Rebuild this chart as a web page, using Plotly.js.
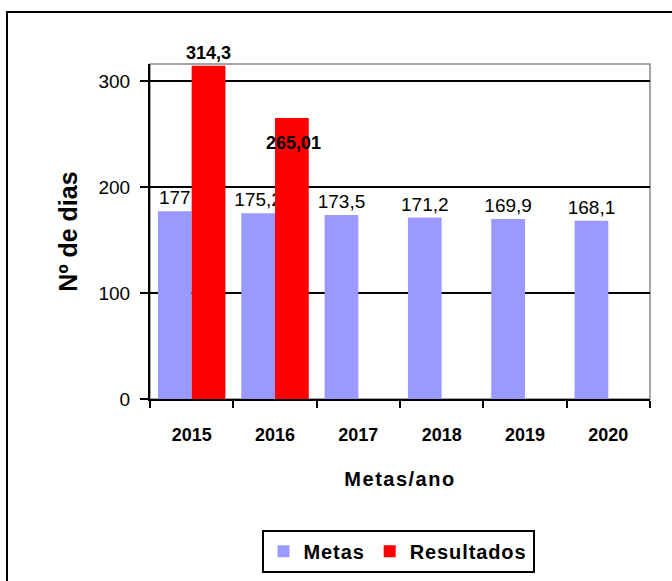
<!DOCTYPE html>
<html>
<head>
<meta charset="utf-8">
<script src="https://cdn.plot.ly/plotly-3.0.1.min.js"></script>
<style>
  html, body { margin: 0; padding: 0; background: #fff; }
  #wrap { position: relative; width: 672px; height: 581px; overflow: hidden; }
  #chart { position: absolute; left: 0; top: 0; width: 672px; height: 581px; }
  #frame { position: absolute; left: 6px; top: 11px; width: 700px; height: 620px; border: 2px solid #000; pointer-events: none; }
  .legendtext { letter-spacing: 0.9px; }
  .xtitle { letter-spacing: 1.5px; }
</style>
</head>
<body>
<div id="wrap">
  <div id="chart"></div>
  <div id="frame"></div>
</div>
<script>
const categories = ['2015', '2016', '2017', '2018', '2019', '2020'];
const metas = [177, 175.2, 173.5, 171.2, 169.9, 168.1];
const resultados = [314.3, 265.01, null, null, null, null];
const yTicks = [0, 100, 200, 300];

const FONT = "'Liberation Sans', Arial, sans-serif";
const fmt = v => (v === null ? '' : String(v).replace('.', ','));

const traceMetas = {
  type: 'bar', name: 'Metas', x: categories, y: metas,
  marker: { color: '#9999FF' },
  text: metas.map(fmt), textposition: 'outside', textangle: 0, constraintext: 'none',
  outsidetextfont: { family: FONT, size: 19, color: '#000' },
  cliponaxis: false, hoverinfo: 'none'
};
// first result labelled above its bar; the second one is labelled by an annotation inside the bar
const IN_LABEL = 1;
const traceRes = {
  type: 'bar', name: 'Resultados', x: categories, y: resultados,
  marker: { color: '#FF0000' },
  text: resultados.map((v, i) => i === IN_LABEL ? '' : fmt(v)),
  textposition: 'outside', textangle: 0, constraintext: 'none',
  outsidetextfont: { family: FONT, size: 18, color: '#000', weight: 'bold' },
  cliponaxis: false, hoverinfo: 'none'
};

const layout = {
  width: 672, height: 581,
  margin: { l: 150, r: 22, t: 64, b: 182, pad: 0 },
  paper_bgcolor: 'rgba(0,0,0,0)', plot_bgcolor: '#fff',
  barmode: 'group', bargap: 0.19, bargroupgap: 0,
  font: { family: FONT, color: '#000' },
  showlegend: true,
  legend: {
    orientation: 'h', x: 0.496, xanchor: 'center', yref: 'container', y: 0.088, yanchor: 'top',
    bordercolor: '#000', borderwidth: 2, bgcolor: '#fff',
    font: { family: FONT, size: 20, weight: 'bold', color: '#000' },
    itemclick: false, itemdoubleclick: false
  },
  xaxis: {
    type: 'category', tickson: 'boundaries', ticks: 'outside', ticklen: 7, tickwidth: 2, tickcolor: '#000',
    showline: true, linecolor: '#000', linewidth: 2, showgrid: false, zeroline: false,
    tickfont: { family: FONT, size: 18, weight: 'bold' }, ticklabelstandoff: 18, tickangle: 0,
    title: { text: 'Metas/ano', font: { family: FONT, size: 20, weight: 'bold' }, standoff: 28 }
  },
  yaxis: {
    range: [0, 316], tickvals: yTicks, ticks: 'outside', ticklen: 8, tickwidth: 2, tickcolor: '#000',
    showline: true, linecolor: '#000', linewidth: 2, showgrid: true, gridcolor: '#000', gridwidth: 1.6,
    zeroline: false, tickfont: { family: FONT, size: 19 }, ticklabelstandoff: 6,
    title: { text: 'Nº de dias', font: { family: FONT, size: 25, weight: 'bold' }, standoff: 14 }
  },
  annotations: [{
    xref: 'x', yref: 'y', x: IN_LABEL, y: resultados[IN_LABEL], text: fmt(resultados[IN_LABEL]),
    showarrow: false, xanchor: 'center', yanchor: 'top', xshift: 18, yshift: -13,
    font: { family: FONT, size: 18, weight: 'bold', color: '#000' }
  }],
  shapes: [{ type: 'rect', xref: 'paper', yref: 'paper', x0: 0, x1: 1, y0: 0, y1: 1,
    line: { color: '#888', width: 1.5 }, layer: 'below' }]
};

Plotly.newPlot('chart', [traceMetas, traceRes], layout, { displayModeBar: false, staticPlot: true });
</script>
</body>
</html>
